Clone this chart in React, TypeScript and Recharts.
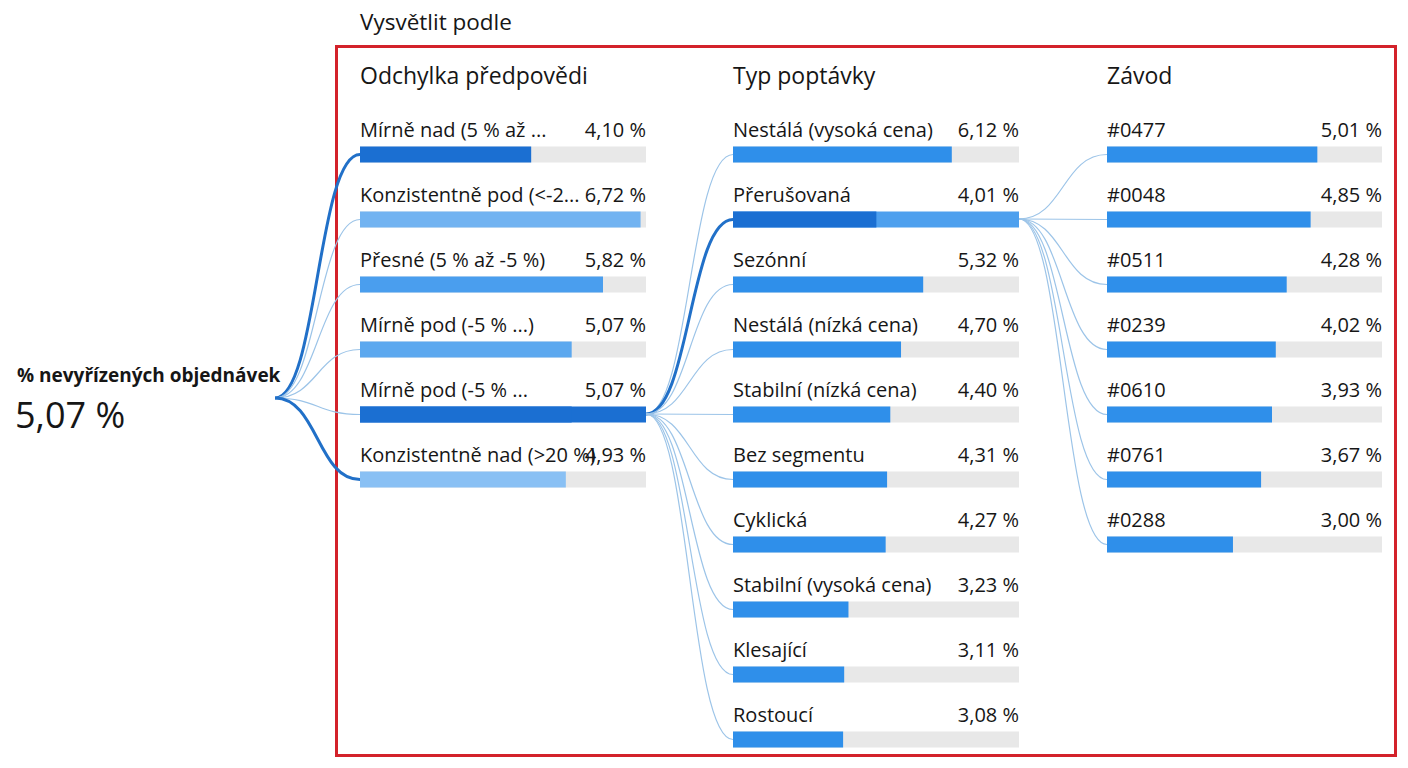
import React from "react";
import { BarChart, Bar, XAxis, YAxis } from "recharts";

const rootLabel = "% nevyřízených objednávek";
const rootValue = 5.07;

const forecastNames = [
  "Mírně nad (5 % až ...",
  "Konzistentně pod (<-2...",
  "Přesné (5 % až -5 %)",
  "Mírně pod (-5 % ...)",
  "Mírně pod (-5 % ...",
  "Konzistentně nad (>20 %)",
];
const forecastValues = [4.1, 6.72, 5.82, 5.07, 5.07, 4.93];

const demandNames = [
  "Nestálá (vysoká cena)",
  "Přerušovaná",
  "Sezónní",
  "Nestálá (nízká cena)",
  "Stabilní (nízká cena)",
  "Bez segmentu",
  "Cyklická",
  "Stabilní (vysoká cena)",
  "Klesající",
  "Rostoucí",
];
const demandValues = [6.12, 4.01, 5.32, 4.7, 4.4, 4.31, 4.27, 3.23, 3.11, 3.08];

const plantNames = ["#0477", "#0048", "#0511", "#0239", "#0610", "#0761", "#0288"];
const plantValues = [5.01, 4.85, 4.28, 4.02, 3.93, 3.67, 3.0];

const headers = ["Odchylka předpovědi", "Typ poptávky", "Závod"];

// layout + styles
const FONT = "'Segoe UI', 'Open Sans', sans-serif";
const TEXT = "#161616";
const PITCH = 65;
const BAR_H = 16;
const PLOT_TOP = 121.5;
const ROOT_Y = 398;
const DARK = "#1b6fd2";
const MID = "#2f8fea";
const TRACK = "#e8e8e8";
const THIN = "#9cc4e8";
const THICK = "#2170c8";

const forecastColors = [DARK, "#72b3f1", "#4a9eee", "#5ca8ef", DARK, "#89c0f4"];

const fmt = (v: number) => v.toFixed(2).replace(".", ",") + " %";
const rowCenter = (i: number) => PLOT_TOP + (i + 0.5) * PITCH;

interface ColumnProps {
  names: string[];
  values: number[];
  max: number;
  left: number;
  connW: number;
  barW: number;
  parentY: number;
  colors: string[];
  selected: number | null;
  selectedBg: string;
  thick: number[];
}

const Column: React.FC<ColumnProps> = ({
  names,
  values,
  max,
  left,
  connW,
  barW,
  parentY,
  colors,
  selected,
  selectedBg,
  thick,
}) => {
  const data = names.map((name, i) => ({ name, value: values[i], idx: i }));
  const height = PLOT_TOP + names.length * PITCH + 10;

  const renderBg = (p: any) => {
    const i = p.payload?.idx ?? p.index;
    return (
      <g key={`bg-${i}`}>
        <rect
          x={p.x}
          y={p.y}
          width={p.width}
          height={p.height}
          fill={i === selected ? selectedBg : TRACK}
        />
        <text x={p.x} y={p.y - 9.5} fontSize={20} fill={TEXT} fontFamily={FONT}>
          {names[i]}
        </text>
        <text
          x={p.x + p.width}
          y={p.y - 9.5}
          fontSize={20}
          fill={TEXT}
          fontFamily={FONT}
          textAnchor="end"
        >
          {fmt(values[i])}
        </text>
      </g>
    );
  };

  const renderBar = (p: any) => {
    const i = p.payload?.idx ?? p.index;
    const x0 = p.x - connW;
    const x1 = p.x;
    const y1 = p.y + p.height / 2;
    const xm = (x0 + x1) / 2;
    const isThick = thick.includes(i);
    return (
      <g>
        <path
          d={`M${x0},${parentY} C${xm},${parentY} ${xm},${y1} ${x1},${y1}`}
          fill="none"
          stroke={isThick ? THICK : THIN}
          strokeWidth={isThick ? 3 : 1.2}
        />
        <rect x={p.x} y={p.y} width={p.width} height={p.height} fill={colors[i]} />
      </g>
    );
  };

  return (
    <div style={{ position: "absolute", left, top: 0 }}>
      <BarChart
        width={connW + barW}
        height={height}
        data={data}
        layout="vertical"
        margin={{ top: PLOT_TOP, right: 0, bottom: 10, left: connW }}
      >
        <XAxis type="number" domain={[0, max]} hide />
        <YAxis type="category" dataKey="name" hide width={0} />
        <Bar
          dataKey="value"
          barSize={BAR_H}
          background={renderBg}
          shape={renderBar}
          isAnimationActive={false}
        />
      </BarChart>
    </div>
  );
};

export default function App() {
  return (
    <div
      style={{
        position: "absolute",
        left: 0,
        top: 0,
        width: 1408,
        height: 768,
        background: "#fff",
        fontFamily: FONT,
      }}
    >
      <svg width={1408} height={768} style={{ position: "absolute", left: 0, top: 0 }}>
        <text x={360} y={30} fontSize={22.5} fill={TEXT} fontFamily={FONT}>
          Vysvětlit podle
        </text>
        <rect x={336.5} y={46.5} width={1059} height={709} fill="none" stroke="#d3222a" strokeWidth={3} />
        {headers.map((h, i) => (
          <text key={h} x={[360, 733, 1107][i]} y={84} fontSize={23} fill={TEXT} fontFamily={FONT}>
            {h}
          </text>
        ))}
        <text x={17} y={382} fontSize={19} fontWeight={700} fill={TEXT} fontFamily={FONT}>
          {rootLabel}
        </text>
        <text x={15} y={428} fontSize={36} fill={TEXT} fontFamily={FONT}>
          {fmt(rootValue)}
        </text>
      </svg>
      <Column
        names={forecastNames}
        values={forecastValues}
        max={6.85}
        left={275}
        connW={85}
        barW={286}
        parentY={ROOT_Y}
        colors={forecastColors}
        selected={4}
        selectedBg={DARK}
        thick={[0, 5]}
      />
      <Column
        names={demandNames}
        values={demandValues}
        max={8}
        left={646}
        connW={87}
        barW={286}
        parentY={rowCenter(4)}
        colors={demandNames.map((_, i) => (i === 1 ? DARK : MID))}
        selected={1}
        selectedBg="#4ea0ee"
        thick={[1]}
      />
      <Column
        names={plantNames}
        values={plantValues}
        max={6.55}
        left={1019}
        connW={88}
        barW={275}
        parentY={rowCenter(1)}
        colors={plantNames.map(() => MID)}
        selected={null}
        selectedBg={TRACK}
        thick={[]}
      />
    </div>
  );
}
